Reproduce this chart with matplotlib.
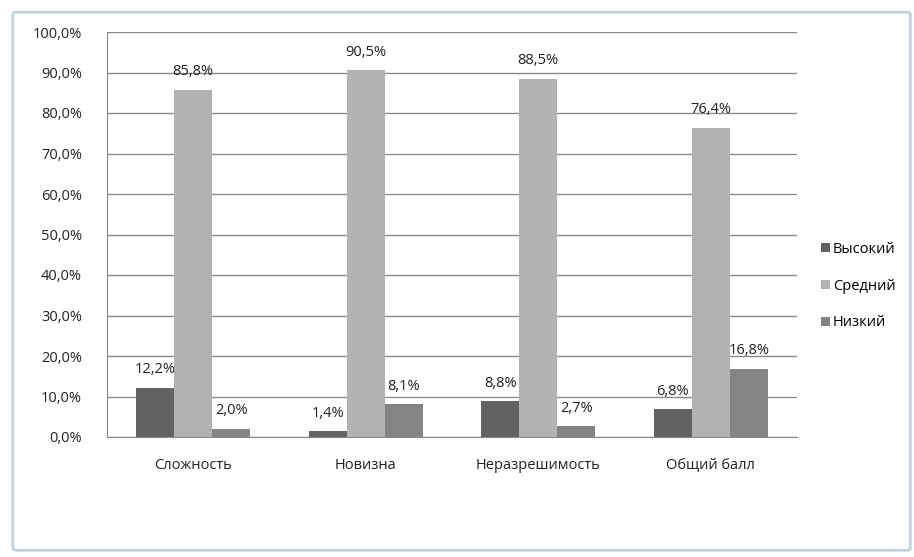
import matplotlib.pyplot as plt
import numpy as np
from matplotlib.patches import FancyBboxPatch
from matplotlib.ticker import FuncFormatter

categories = ["Сложность", "Новизна", "Неразрешимость", "Общий балл"]
series_names = ["Высокий", "Средний", "Низкий"]
high = [12.2, 1.4, 8.8, 6.8]
medium = [85.8, 90.5, 88.5, 76.4]
low = [2.0, 8.1, 2.7, 16.8]
colors = ["#626262", "#b2b2b2", "#848484"]

plt.rcParams['font.family'] = ['Open Sans', 'DejaVu Sans']

fig = plt.figure(figsize=(9.14, 5.57), dpi=100)
fig.patch.set_facecolor("white")

# outer chart frame
frame = FancyBboxPatch((0.014, 0.012), 0.982, 0.966, boxstyle="round,pad=0,rounding_size=0.004",
                       transform=fig.transFigure, facecolor="none", edgecolor="#c3d3dc",
                       linewidth=2.0, zorder=-5)
fig.patches.append(frame)

ax = fig.add_axes([107 / 914, 1 - 437 / 557, 690 / 914, 405 / 557])
ax.set_zorder(2)
ax.patch.set_alpha(0)
x = np.arange(len(categories))
w = 0.22
for i, (vals, name, c) in enumerate(zip([high, medium, low], series_names, colors)):
    pos = x + (i - 1) * w
    ax.bar(pos, vals, width=w, color=c, label=name, zorder=3)
    for px, v in zip(pos, vals):
        ax.text(px, v + 2.6, f"{v:.1f}%".replace(".", ","), ha="center", va="bottom",
                fontsize=10.5, color="#222222")

ax.set_xlim(-0.5, len(categories) - 0.5)
ax.set_ylim(0, 100)
ax.set_yticks(np.arange(0, 101, 10))
ax.yaxis.set_major_formatter(FuncFormatter(lambda v, p: f"{v:.1f}%".replace(".", ",")))
ax.set_xticks(x)
ax.set_xticklabels(categories)
ax.tick_params(axis="both", length=0, labelsize=10.5, colors="#222222")
ax.tick_params(axis="x", pad=15)
ax.tick_params(axis="y", pad=18)
ax.grid(axis="y", color="#8a8a8a", linewidth=1, zorder=1)
ax.set_axisbelow(True)
for s in ["top", "right"]:
    ax.spines[s].set_visible(False)
ax.spines["left"].set_color("#8a8a8a")
ax.spines["bottom"].set_color("#8a8a8a")

leg = fig.legend(loc="center left", bbox_to_anchor=(808 / 914, 1 - 286 / 557), frameon=False,
                 fontsize=10.5, handlelength=0.6, handleheight=0.6, handletextpad=0.2,
                 labelspacing=1.5)

fig.savefig("out.png", dpi=100, facecolor="white")
